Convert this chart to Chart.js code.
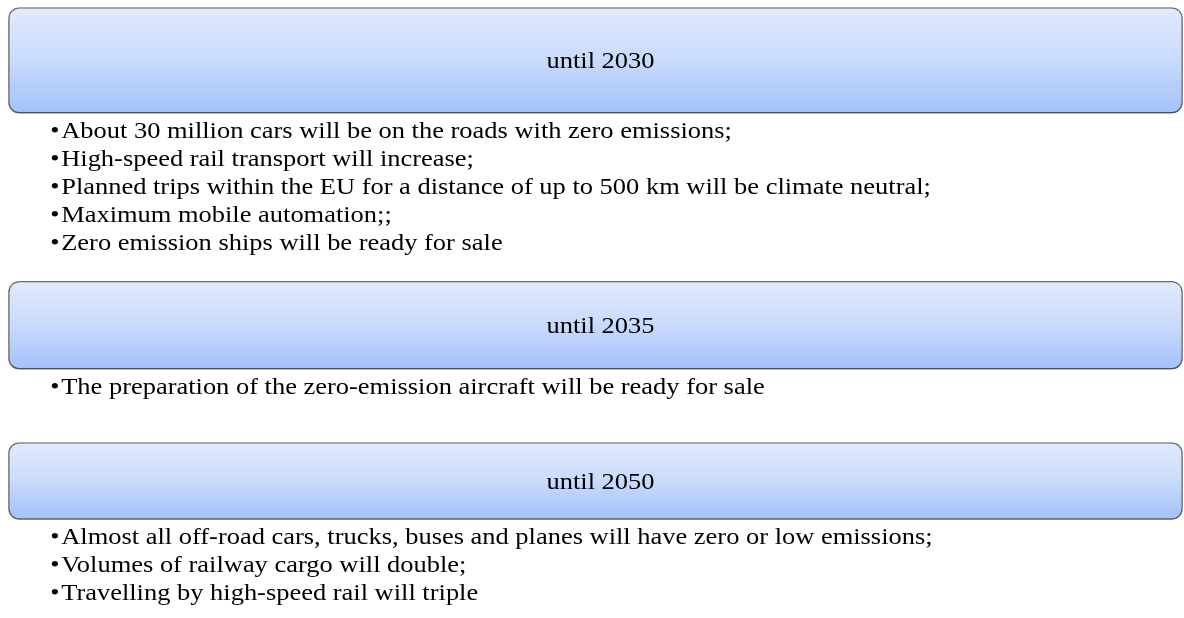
<!DOCTYPE html>
<html>
<head>
<meta charset="utf-8">
<script src="https://cdn.jsdelivr.net/npm/chart.js@4"></script>
<style>
    html, body { margin: 0; padding: 0; background: #fff; }
    #wrap { width: 1184px; height: 618px; position: relative; }
</style>
</head>
<body>
<div id="wrap"><canvas id="roadmap"></canvas></div>
<script>
// Cabeçalhos de cada etapa
const headings = ["until 2030", "until 2035", "until 2050"];

// Itens de cada etapa
const items2030 = [
    "About 30 million cars will be on the roads with zero emissions;",
    "High-speed rail transport will increase;",
    "Planned trips within the EU for a distance of up to 500 km will be climate neutral;",
    "Maximum mobile automation;;",
    "Zero emission ships will be ready for sale"
];
const items2035 = [
    "The preparation of the zero-emission aircraft will be ready for sale"
];
const items2050 = [
    "Almost all off-road cars, trucks, buses and planes will have zero or low emissions;",
    "Volumes of railway cargo will double;",
    "Travelling by high-speed rail will triple"
];
const groupItems = [items2030, items2035, items2050];

// Faixa de cada caixa no eixo vertical (em "linhas" de texto)
const boxStart = [0.26, 10.0, 15.74];
const boxEnd = [4.04, 13.15, 18.5];
const totalRows = 22;

const FONT = "'Liberation Serif', 'Times New Roman', serif";
const STRETCH = 1.15; // o texto original está um pouco esticado na horizontal

function boxGradient(context) {
    const chart = context.chart;
    const raw = context.raw;
    if (!chart.chartArea || !Array.isArray(raw)) return "#c2d5fb";
    const y = chart.scales.y;
    const g = chart.ctx.createLinearGradient(0, y.getPixelForValue(raw[0]), 0, y.getPixelForValue(raw[1]));
    g.addColorStop(0, "#e2ebfd");
    g.addColorStop(0.5, "#c9dafc");
    g.addColorStop(1, "#a3c1f9");
    return g;
}

// sombra sob as caixas
const shadowPlugin = {
    id: "boxShadow",
    beforeDatasetsDraw(chart) {
        const ctx = chart.ctx;
        ctx.save();
        ctx.shadowColor = "rgba(0, 0, 0, 0.4)";
        ctx.shadowBlur = 6;
        ctx.shadowOffsetY = 3;
    },
    afterDatasetsDraw(chart) {
        chart.ctx.restore();
    }
};

function stretchedText(ctx, txt, x, y) {
    ctx.save();
    ctx.translate(x, y);
    ctx.scale(STRETCH, 1);
    ctx.fillText(txt, 0, 0);
    ctx.restore();
}

// textos: cabeçalho centrado e lista com marcadores
const textPlugin = {
    id: "roadmapText",
    afterDraw(chart) {
        const ctx = chart.ctx;
        const y = chart.scales.y;
        ctx.save();
        ctx.fillStyle = "#000";
        ctx.textBaseline = "middle";
        headings.forEach((h, i) => {
            const bar = chart.getDatasetMeta(i).data[0];
            const left = bar.x - bar.width / 2;
            ctx.font = "23px " + FONT;
            ctx.textAlign = "center";
            stretchedText(ctx, h, bar.x + 5, (bar.y + bar.base) / 2 + 2);

            ctx.textAlign = "left";
            groupItems[i].forEach((txt, j) => {
                const py = y.getPixelForValue(boxEnd[i] + 0.65 + j);
                stretchedText(ctx, "\u2022", left + 42, py);
                stretchedText(ctx, txt, left + 53, py);
            });
        });
        ctx.restore();
    }
};

new Chart(document.getElementById("roadmap"), {
    type: "bar",
    data: {
        labels: ["roadmap"],
        datasets: headings.map((h, i) => ({
            label: h,
            data: [[boxStart[i], boxEnd[i]]],
            backgroundColor: boxGradient,
            borderColor: "#6f747d",
            borderWidth: 1.5,
            borderRadius: 11,
            borderSkipped: false,
            grouped: false,
            categoryPercentage: 1,
            barPercentage: 0.998
        }))
    },
    options: {
        responsive: true,
        maintainAspectRatio: false,
        animation: false,
        layout: { padding: { left: 7, right: 0, top: 0, bottom: 0 } },
        plugins: {
            legend: { display: false },
            tooltip: { enabled: false }
        },
        scales: {
            x: { display: false },
            y: { display: false, min: 0, max: totalRows, reverse: true }
        }
    },
    plugins: [shadowPlugin, textPlugin]
});
</script>
</body>
</html>
